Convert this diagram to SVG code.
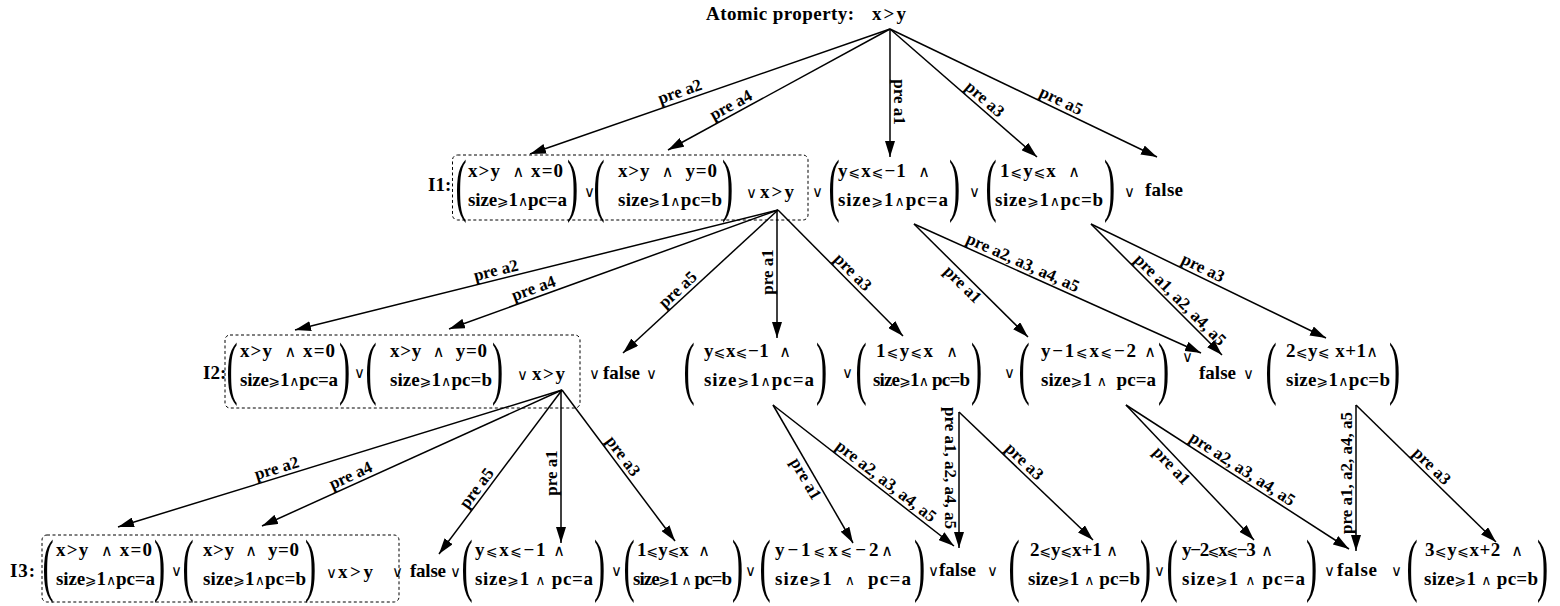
<svg xmlns="http://www.w3.org/2000/svg" width="1560" height="606" viewBox="0 0 1560 606">
<defs>
<marker id="ah" markerUnits="userSpaceOnUse" markerWidth="16" markerHeight="10" refX="16" refY="5" orient="auto"><path d="M0,0 L16,5 L0,10 z" fill="#000"/></marker>
</defs>
<style>
text{font-family:'Liberation Serif','DejaVu Serif',serif;fill:#000}
.t{font-weight:700;font-size:19px;white-space:pre}
.lb{font-weight:700;font-size:17px;text-anchor:middle}
.le{font-family:'DejaVu Sans',sans-serif;font-weight:400;font-size:14px}
.w{font-family:'DejaVu Sans',sans-serif;font-weight:400;font-size:16px}
.ws{font-family:'DejaVu Sans',sans-serif;font-weight:400;font-size:14px}
.o{font-family:'DejaVu Sans',sans-serif;font-weight:400;font-size:15px}
.p{font-family:'Liberation Serif',serif;font-weight:400;font-size:28px}
.box{fill:none;stroke:#000;stroke-width:1;stroke-dasharray:3 2.5}
.e line{stroke:#000;stroke-width:1.5;marker-end:url(#ah)}
</style>
<rect width="1560" height="606" fill="#fff"/>

<g id="title">
<text class="t" x="706" y="20" textLength="148">Atomic property:</text>
<text class="t" x="872" y="20" textLength="34">x&gt;y</text>
</g>

<g id="connectors" class="e">
<line x1="890" y1="29" x2="530" y2="154"/>
<line x1="890" y1="29" x2="668" y2="150"/>
<line x1="890" y1="29" x2="890" y2="157"/>
<line x1="890" y1="29" x2="1037" y2="157"/>
<line x1="890" y1="29" x2="1157" y2="157"/>
<line x1="778" y1="210" x2="295" y2="330"/>
<line x1="778" y1="210" x2="449" y2="329"/>
<line x1="778" y1="210" x2="623" y2="353"/>
<line x1="777" y1="210" x2="777" y2="338"/>
<line x1="778" y1="210" x2="903" y2="336"/>
<line x1="914" y1="224" x2="1028" y2="337"/>
<line x1="914" y1="224" x2="1201" y2="353"/>
<line x1="1091" y1="224" x2="1222" y2="355"/>
<line x1="1091" y1="224" x2="1326" y2="338"/>
<line x1="562" y1="390" x2="118" y2="527"/>
<line x1="562" y1="390" x2="262" y2="526"/>
<line x1="562" y1="390" x2="439" y2="554"/>
<line x1="561" y1="390" x2="561" y2="543"/>
<line x1="562" y1="390" x2="675" y2="541"/>
<line x1="773" y1="405" x2="853" y2="543"/>
<line x1="773" y1="405" x2="954" y2="546"/>
<line x1="959" y1="412" x2="959" y2="548"/>
<line x1="959" y1="412" x2="1093" y2="540"/>
<line x1="1126" y1="405" x2="1254" y2="540"/>
<line x1="1126" y1="405" x2="1349" y2="549"/>
<line x1="1356" y1="405" x2="1356" y2="551"/>
<line x1="1356" y1="405" x2="1496" y2="542"/>
</g>

<g id="edge-labels">
<text class="lb" transform="translate(680 92) rotate(-19.1)" y="5">pre a2</text>
<text class="lb" transform="translate(731 105.5) rotate(-28.6)" y="5">pre a4</text>
<text class="lb" transform="translate(899 102) rotate(90)" y="5">pre a1</text>
<text class="lb" transform="translate(984.5 99.4) rotate(41)" y="5">pre a3</text>
<text class="lb" transform="translate(1061 101) rotate(25.6)" y="5">pre a5</text>
<text class="lb" transform="translate(496 270.8) rotate(-13.95)" y="5">pre a2</text>
<text class="lb" transform="translate(533.6 288.8) rotate(-19.9)" y="5">pre a4</text>
<text class="lb" transform="translate(678 290) rotate(-42.7)" y="5">pre a5</text>
<text class="lb" transform="translate(768 272) rotate(-90)" y="5">pre a1</text>
<text class="lb" transform="translate(852.6 272.4) rotate(45.2)" y="5">pre a3</text>
<text class="lb" transform="translate(962.4 284.6) rotate(44.7)" y="5">pre a1</text>
<text class="lb" transform="translate(1022.6 263) rotate(24.2)" y="5">pre a2, a3, a4, a5</text>
<text class="lb" transform="translate(1179.9 300.1) rotate(45)" y="5">pre a1, a2, a4, a5</text>
<text class="lb" transform="translate(1203 268.3) rotate(25.9)" y="5">pre a3</text>
<text class="lb" transform="translate(276.8 468.6) rotate(-17.1)" y="5">pre a2</text>
<text class="lb" transform="translate(350.8 475.9) rotate(-24.4)" y="5">pre a4</text>
<text class="lb" transform="translate(476.9 488.4) rotate(-53.1)" y="5">pre a5</text>
<text class="lb" transform="translate(552 473) rotate(-90)" y="5">pre a1</text>
<text class="lb" transform="translate(622.8 456.3) rotate(53.2)" y="5">pre a3</text>
<text class="lb" transform="translate(805.5 479) rotate(59.9)" y="5">pre a1</text>
<text class="lb" transform="translate(885.8 481.5) rotate(37.9)" y="5">pre a2, a3, a4, a5</text>
<text class="lb" transform="translate(950 468) rotate(90)" y="5">pre a1, a2, a4, a5</text>
<text class="lb" transform="translate(1024.1 461.7) rotate(43.7)" y="5">pre a3</text>
<text class="lb" transform="translate(1171.4 465.9) rotate(46.5)" y="5">pre a1</text>
<text class="lb" transform="translate(1242.2 469.3) rotate(32.9)" y="5">pre a2, a3, a4, a5</text>
<text class="lb" transform="translate(1347 473) rotate(-90)" y="5">pre a1, a2, a4, a5</text>
<text class="lb" transform="translate(1431.6 466.4) rotate(44.4)" y="5">pre a3</text>
</g>

<!-- Row I1 -->
<g id="I1">
<text class="t" x="428" y="191">I1:</text>
<rect class="box" x="452.5" y="155" width="355.5" height="65" rx="5"/>
<g id="I1-A">
<text class="p" transform="translate(455.4 207.6) scale(1.2 2.5)">(</text>
<text class="t" x="468" y="177" textLength="95">x&gt;y  <tspan class="w">∧</tspan> x=0</text>
<text class="t" x="468" y="206" textLength="99">size<tspan class="le">⩾</tspan>1<tspan class="ws">∧</tspan>pc=a</text>
<text class="p" transform="translate(567 207.6) scale(1.2 2.5)">)</text>
</g>
<text class="o" x="584" y="197">∨</text>
<g id="I1-B">
<text class="p" transform="translate(593.4 207.6) scale(1.2 2.5)">(</text>
<text class="t" x="618" y="177" textLength="99">x&gt;y  <tspan class="w">∧</tspan>  y=0</text>
<text class="t" x="618" y="206" textLength="104">size<tspan class="le">⩾</tspan>1<tspan class="ws">∧</tspan>pc=b</text>
<text class="p" transform="translate(722 207.6) scale(1.2 2.5)">)</text>
</g>
<text class="o" x="746" y="198">∨</text>
<text class="t" x="760" y="198" textLength="34">x&gt;y</text>
</g>
<text class="o" x="812" y="197">∨</text>
<g id="I1-C">
<text class="p" transform="translate(828.4 207.6) scale(1.2 2.5)">(</text>
<text class="t" x="838" y="177" textLength="92">y<tspan class="le">⩽</tspan>x<tspan class="le">⩽</tspan>−1  <tspan class="w">∧</tspan></text>
<text class="t" x="838" y="206" textLength="110">size<tspan class="le">⩾</tspan>1<tspan class="ws">∧</tspan>pc=a</text>
<text class="p" transform="translate(949 207.6) scale(1.2 2.5)">)</text>
</g>
<text class="o" x="969" y="197">∨</text>
<g id="I1-D">
<text class="p" transform="translate(985.4 207.6) scale(1.2 2.5)">(</text>
<text class="t" x="1000" y="177" textLength="80">1<tspan class="le">⩽</tspan>y<tspan class="le">⩽</tspan>x  <tspan class="w">∧</tspan></text>
<text class="t" x="995" y="206" textLength="108">size<tspan class="le">⩾</tspan>1<tspan class="ws">∧</tspan>pc=b</text>
<text class="p" transform="translate(1104 207.6) scale(1.2 2.5)">)</text>
</g>
<g id="I1-false">
<text class="o" x="1124" y="197">∨</text>
<text class="t" x="1145" y="196" textLength="38">false</text>
</g>

<!-- Row I2 -->
<g id="I2">
<text class="t" x="203" y="379">I2:</text>
<rect class="box" x="225" y="335" width="355" height="73" rx="5"/>
<g id="I2-A">
<text class="p" transform="translate(226.4 390.6) scale(1.2 2.5)">(</text>
<text class="t" x="240" y="357" textLength="95">x&gt;y  <tspan class="w">∧</tspan> x=0</text>
<text class="t" x="240" y="386" textLength="98">size<tspan class="le">⩾</tspan>1<tspan class="ws">∧</tspan>pc=a</text>
<text class="p" transform="translate(339 390.6) scale(1.2 2.5)">)</text>
</g>
<text class="o" x="354" y="378">∨</text>
<g id="I2-B">
<text class="p" transform="translate(365.4 390.6) scale(1.2 2.5)">(</text>
<text class="t" x="390" y="357" textLength="97">x&gt;y  <tspan class="w">∧</tspan>  y=0</text>
<text class="t" x="390" y="386" textLength="102">size<tspan class="le">⩾</tspan>1<tspan class="ws">∧</tspan>pc=b</text>
<text class="p" transform="translate(492 390.6) scale(1.2 2.5)">)</text>
</g>
<text class="o" x="517" y="380">∨</text>
<text class="t" x="532" y="380" textLength="33">x&gt;y</text>
</g>
<g id="I2-false1">
<text class="o" x="589" y="379">∨</text>
<text class="t" x="603" y="379" textLength="37">false</text>
<text class="o" x="646" y="379">∨</text>
</g>
<g id="I2-C">
<text class="p" transform="translate(683.4 390.6) scale(1.2 2.5)">(</text>
<text class="t" x="704" y="357" textLength="87">y<tspan class="le">⩽</tspan>x<tspan class="le">⩽</tspan>−1  <tspan class="w">∧</tspan></text>
<text class="t" x="704" y="386" textLength="110">size<tspan class="le">⩾</tspan>1<tspan class="ws">∧</tspan>pc=a</text>
<text class="p" transform="translate(816 390.6) scale(1.2 2.5)">)</text>
</g>
<text class="o" x="842" y="378">∨</text>
<g id="I2-D">
<text class="p" transform="translate(855.4 390.6) scale(1.2 2.5)">(</text>
<text class="t" x="876" y="357" textLength="82">1<tspan class="le">⩽</tspan>y<tspan class="le">⩽</tspan>x  <tspan class="w">∧</tspan></text>
<text class="t" x="873" y="386" textLength="97">size<tspan class="le">⩾</tspan>1<tspan class="ws">∧</tspan> pc=b</text>
<text class="p" transform="translate(971 390.6) scale(1.2 2.5)">)</text>
</g>
<text class="o" x="1004" y="378">∨</text>
<g id="I2-E">
<text class="p" transform="translate(1018.4 390.6) scale(1.2 2.5)">(</text>
<text class="t" x="1041" y="357" textLength="115">y−1<tspan class="le">⩽</tspan>x<tspan class="le">⩽</tspan>−2 <tspan class="w">∧</tspan></text>
<text class="t" x="1041" y="386" textLength="115">size<tspan class="le">⩾</tspan>1 <tspan class="ws">∧</tspan>  pc=a</text>
<text class="p" transform="translate(1158 390.6) scale(1.2 2.5)">)</text>
</g>
<g id="I2-false2">
<text class="o" x="1182" y="362">∨</text>
<text class="t" x="1199" y="379" textLength="37">false</text>
<text class="o" x="1243" y="379">∨</text>
</g>
<g id="I2-F">
<text class="p" transform="translate(1265.4 390.6) scale(1.2 2.5)">(</text>
<text class="t" x="1286" y="357" textLength="92">2<tspan class="le">⩽</tspan>y<tspan class="le">⩽</tspan> x+1<tspan class="w">∧</tspan></text>
<text class="t" x="1286" y="386" textLength="104">size<tspan class="le">⩾</tspan>1<tspan class="ws">∧</tspan>pc=b</text>
<text class="p" transform="translate(1389 390.6) scale(1.2 2.5)">)</text>
</g>

<!-- Row I3 -->
<g id="I3">
<text class="t" x="10" y="577" textLength="25">I3:</text>
<rect class="box" x="42" y="535" width="357" height="67" rx="5"/>
<g id="I3-A">
<text class="p" transform="translate(42.4 587.6) scale(1.2 2.5)">(</text>
<text class="t" x="56" y="556" textLength="96">x&gt;y  <tspan class="w">∧</tspan> x=0</text>
<text class="t" x="56" y="585" textLength="99">size<tspan class="le">⩾</tspan>1<tspan class="ws">∧</tspan>pc=a</text>
<text class="p" transform="translate(154 587.6) scale(1.2 2.5)">)</text>
</g>
<text class="o" x="171" y="576">∨</text>
<g id="I3-B">
<text class="p" transform="translate(182.4 587.6) scale(1.2 2.5)">(</text>
<text class="t" x="203" y="556" textLength="96">x&gt;y  <tspan class="w">∧</tspan>  y=0</text>
<text class="t" x="203" y="585" textLength="103">size<tspan class="le">⩾</tspan>1<tspan class="ws">∧</tspan>pc=b</text>
<text class="p" transform="translate(305 587.6) scale(1.2 2.5)">)</text>
</g>
<text class="o" x="326" y="578">∨</text>
<text class="t" x="338" y="578" textLength="35">x&gt;y</text>
</g>
<g id="I3-false1">
<text class="o" x="392" y="577">∨</text>
<text class="t" x="410" y="577" textLength="36">false</text>
<text class="o" x="450" y="577">∨</text>
</g>
<g id="I3-C">
<text class="p" transform="translate(461.4 587.6) scale(1.2 2.5)">(</text>
<text class="t" x="475" y="556" textLength="90">y<tspan class="le">⩽</tspan>x<tspan class="le">⩽</tspan>−1 <tspan class="w">∧</tspan></text>
<text class="t" x="475" y="585" textLength="118">size<tspan class="le">⩾</tspan>1 <tspan class="ws">∧</tspan> pc=a</text>
<text class="p" transform="translate(594 587.6) scale(1.2 2.5)">)</text>
</g>
<text class="o" x="611" y="576">∨</text>
<g id="I3-D">
<text class="p" transform="translate(623.4 587.6) scale(1.2 2.5)">(</text>
<text class="t" x="637" y="556" textLength="73">1<tspan class="le">⩽</tspan>y<tspan class="le">⩽</tspan>x  <tspan class="w">∧</tspan></text>
<text class="t" x="633" y="585" textLength="99">size<tspan class="le">⩾</tspan>1 <tspan class="ws">∧</tspan> pc=b</text>
<text class="p" transform="translate(732 587.6) scale(1.2 2.5)">)</text>
</g>
<text class="o" x="745" y="576">∨</text>
<g id="I3-E">
<text class="p" transform="translate(759.4 587.6) scale(1.2 2.5)">(</text>
<text class="t" x="775" y="556" textLength="118">y−1<tspan class="le">⩽</tspan>x<tspan class="le">⩽</tspan>−2<tspan class="w">∧</tspan></text>
<text class="t" x="775" y="585" textLength="136">size<tspan class="le">⩾</tspan>1  <tspan class="ws">∧</tspan>  pc=a</text>
<text class="p" transform="translate(914 587.6) scale(1.2 2.5)">)</text>
</g>
<g id="I3-false2">
<text class="o" x="928" y="576">∨</text>
<text class="t" x="939" y="576" textLength="37">false</text>
<text class="o" x="987" y="576">∨</text>
</g>
<g id="I3-F">
<text class="p" transform="translate(1008.4 587.6) scale(1.2 2.5)">(</text>
<text class="t" x="1030" y="556" textLength="88">2<tspan class="le">⩽</tspan>y<tspan class="le">⩽</tspan>x+1 <tspan class="w">∧</tspan></text>
<text class="t" x="1028" y="585" textLength="112">size<tspan class="le">⩾</tspan>1 <tspan class="ws">∧</tspan> pc=b</text>
<text class="p" transform="translate(1140 587.6) scale(1.2 2.5)">)</text>
</g>
<text class="o" x="1154" y="576">∨</text>
<g id="I3-G">
<text class="p" transform="translate(1166.4 587.6) scale(1.2 2.5)">(</text>
<text class="t" x="1182" y="556" textLength="91">y−2<tspan class="le">⩽</tspan>x<tspan class="le">⩽</tspan>−3  <tspan class="w">∧</tspan></text>
<text class="t" x="1182" y="585" textLength="123">size<tspan class="le">⩾</tspan>1 <tspan class="ws">∧</tspan> pc=a</text>
<text class="p" transform="translate(1306 587.6) scale(1.2 2.5)">)</text>
</g>
<g id="I3-false3">
<text class="o" x="1324" y="576">∨</text>
<text class="t" x="1337" y="576" textLength="40">false</text>
<text class="o" x="1391" y="576">∨</text>
</g>
<g id="I3-H">
<text class="p" transform="translate(1406.4 587.6) scale(1.2 2.5)">(</text>
<text class="t" x="1425" y="556" textLength="98">3<tspan class="le">⩽</tspan>y<tspan class="le">⩽</tspan>x+2  <tspan class="w">∧</tspan></text>
<text class="t" x="1424" y="585" textLength="114">size<tspan class="le">⩾</tspan>1 <tspan class="ws">∧</tspan> pc=b</text>
<text class="p" transform="translate(1537 587.6) scale(1.2 2.5)">)</text>
</g>
</svg>
